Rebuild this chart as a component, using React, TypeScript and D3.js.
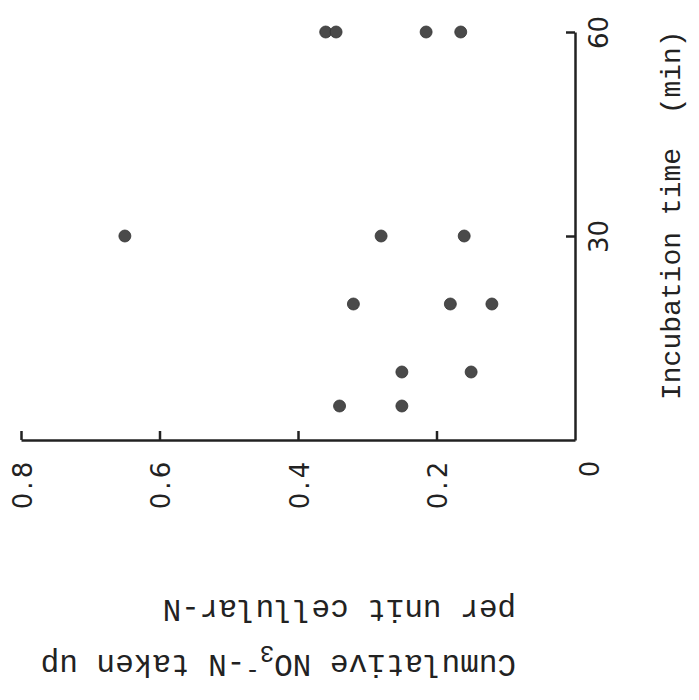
import { useEffect, useRef } from "react";
import * as d3 from "d3";

// incubation time (min) and cumulative NO3-N uptake per unit cellular-N
const times = [5, 5, 10, 10, 20, 20, 20, 30, 30, 30, 60, 60, 60, 60];
const uptake = [0.34, 0.25, 0.25, 0.15, 0.32, 0.18, 0.12, 0.65, 0.28, 0.16, 0.36, 0.345, 0.215, 0.165];

const uptakeTicks = [0.2, 0.4, 0.6, 0.8];
const timeTicks = [30, 60];

const ink = "#222";
const digitFont = "'DejaVu Sans', sans-serif";
const typeFont = "'Liberation Mono', 'DejaVu Sans Mono', monospace";

const App = () => {
  const svgRef = useRef<SVGSVGElement>(null);

  useEffect(() => {
    const svg = d3.select(svgRef.current);
    svg.selectAll("*").remove();

    // the figure is printed turned on its side: uptake runs right to left,
    // time runs bottom to top
    const x = d3.scaleLinear().domain([0, 0.8]).range([575, 21]);
    const y = d3.scaleLinear().domain([0, 60]).range([440, 32]);

    const points = times.map((t, i) => ({ t, v: uptake[i] }));

    // uptake axis (horizontal)
    const xAxis = svg
      .append("g")
      .attr("transform", "translate(0,440)")
      .call(
        d3
          .axisBottom(x)
          .tickValues(uptakeTicks)
          .tickSizeInner(-9)
          .tickSizeOuter(0)
          .tickFormat(d3.format(".1f"))
      );
    xAxis.select(".domain").attr("stroke", ink).attr("stroke-width", 2.5);
    xAxis.selectAll(".tick line").attr("stroke", ink).attr("stroke-width", 2.5);
    xAxis
      .selectAll(".tick text")
      .attr("x", 0)
      .attr("y", 0)
      .attr("dy", 0)
      .attr("transform", "translate(10,44) rotate(-90)")
      .attr("text-anchor", "middle")
      .attr("fill", ink)
      .style("font", `26px ${digitFont}`)
      .style("letter-spacing", "3px");

    // time axis (vertical)
    const yAxis = svg
      .append("g")
      .attr("transform", "translate(575,0)")
      .call(d3.axisRight(y).tickValues(timeTicks).tickSizeInner(-9).tickSizeOuter(0));
    yAxis.select(".domain").attr("stroke", ink).attr("stroke-width", 2.5);
    yAxis.selectAll(".tick line").attr("stroke", ink).attr("stroke-width", 2.5);
    yAxis
      .selectAll(".tick text")
      .attr("x", 0)
      .attr("y", 0)
      .attr("dy", 0)
      .attr("transform", "translate(33,0) rotate(-90)")
      .attr("text-anchor", "middle")
      .attr("fill", ink)
      .style("font", `26px ${digitFont}`);

    // shared origin label
    svg
      .append("text")
      .attr("transform", `translate(${x(0) + 24},${y(0) + 29}) rotate(-90)`)
      .attr("text-anchor", "middle")
      .attr("fill", ink)
      .style("font", `26px ${digitFont}`)
      .text("0");

    // dots
    svg
      .append("g")
      .selectAll("circle")
      .data(points)
      .enter()
      .append("circle")
      .attr("cx", (d) => x(d.v))
      .attr("cy", (d) => y(d.t))
      .attr("r", 6)
      .attr("fill", "#4a4a4a")
      .attr("stroke", "#333")
      .attr("stroke-width", 0.8);

    // time axis title
    svg
      .append("text")
      .attr("transform", "translate(680,400) rotate(-90)")
      .attr("fill", ink)
      .style("font", `28px ${typeFont}`)
      .style("white-space", "pre")
      .text("Incubation time  (min)");

    // uptake axis title, upside down
    const t1 = svg
      .append("text")
      .attr("transform", "translate(516,655) rotate(180)")
      .attr("fill", ink)
      .style("font", `31px ${typeFont}`)
      .style("white-space", "pre");
    t1.append("tspan").text("Cumulative NO");
    t1.append("tspan").attr("dy", 9).style("font-size", "24px").text("3");
    t1.append("tspan").attr("dy", -19).style("font-size", "24px").text("-");
    t1.append("tspan").attr("dy", 10).text("-N taken up");

    svg
      .append("text")
      .attr("transform", "translate(516,600) rotate(180)")
      .attr("fill", ink)
      .style("font", `31px ${typeFont}`)
      .style("white-space", "pre")
      .text("per unit cellular-N");
  }, []);

  return (
    <svg
      ref={svgRef}
      width={699}
      height={700}
      style={{ position: "absolute", left: 0, top: 0, background: "#fff" }}
    />
  );
};

export default App;
